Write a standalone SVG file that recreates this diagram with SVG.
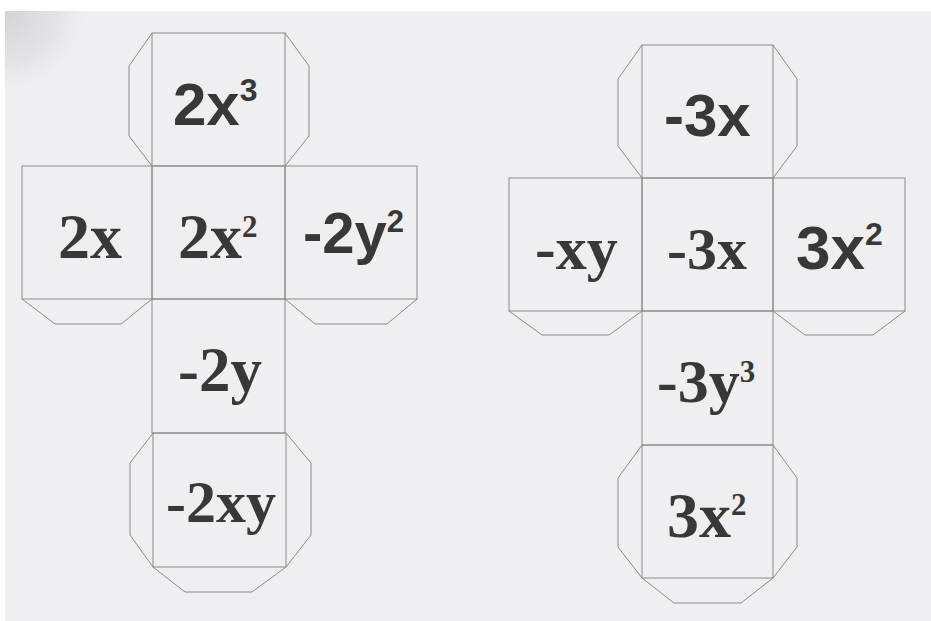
<svg xmlns="http://www.w3.org/2000/svg" width="931" height="621" viewBox="0 0 931 621">
<defs>
<radialGradient id="shadow" cx="0" cy="0" r="1" gradientUnits="userSpaceOnUse" gradientTransform="translate(5 11) scale(90 90)">
<stop offset="0" stop-color="#d4d4d6"/>
<stop offset="0.6" stop-color="#e4e4e6"/>
<stop offset="1" stop-color="#efeff1" stop-opacity="0"/>
</radialGradient>
<style>
.ln{fill:none;stroke:#8a8a8a;stroke-width:1}
.sans{font-family:"Liberation Sans",Arial,sans-serif;font-weight:bold;fill:#383838}
.serif{font-family:"Liberation Serif","Times New Roman",serif;font-weight:bold;fill:#383838}
</style>
</defs>
<rect width="931" height="621" fill="#ffffff"/>
<rect x="5" y="11" width="926" height="610" fill="#efeff1"/>
<rect x="5" y="11" width="100" height="100" fill="url(#shadow)"/>

<g id="net-left">
<g id="flaps-left" class="ln">
<polyline points="152,33 129,66 129,136 152,166"/>
<polyline points="285,33 309,66 309,136 285,166"/>
<polyline points="22,299 55,324 121,324 152,299"/>
<polyline points="285,299 315,324 387,324 417,299"/>
<polyline points="153,433 130,463 130,535 153,567"/>
<polyline points="286,433 311,463 311,535 286,567"/>
<polyline points="153,567 185,592 252,592 286,567"/>
</g>
<g id="face-2x3"><rect class="ln" x="152" y="33" width="133" height="133"/>
<text class="sans" x="173" y="125" font-size="60">2x<tspan font-size="32" dy="-24">3</tspan></text></g>
<g id="face-2x"><rect class="ln" x="22" y="166" width="130" height="133"/>
<text class="serif" x="58" y="258" font-size="64">2x</text></g>
<g id="face-2x2"><rect class="ln" x="152" y="166" width="133" height="133"/>
<text class="serif" x="178" y="258" font-size="64">2x<tspan font-size="31" dy="-21">2</tspan></text></g>
<g id="face-m2y2"><rect class="ln" x="285" y="166" width="132" height="133"/>
<text class="sans" x="303" y="253" font-size="58">-2y<tspan font-size="31" dy="-21">2</tspan></text></g>
<g id="face-m2y"><rect class="ln" x="152" y="299" width="133" height="134"/>
<text class="serif" x="178" y="391" font-size="63">-2y</text></g>
<g id="face-m2xy"><rect class="ln" x="153" y="433" width="133" height="134"/>
<text class="serif" x="166" y="522" font-size="60">-2xy</text></g>
</g>

<g id="net-right">
<g id="flaps-right" class="ln">
<polyline points="642,45 618,79 618,146 642,178"/>
<polyline points="773,45 797,79 797,146 773,178"/>
<polyline points="509,311 542,335 609,335 642,311"/>
<polyline points="773,311 805,335 873,335 905,311"/>
<polyline points="642,445 618,478 618,547 642,578"/>
<polyline points="773,445 797,478 797,547 773,578"/>
<polyline points="642,578 674,603 741,603 773,578"/>
</g>
<g id="face-m3x-top"><rect class="ln" x="642" y="45" width="131" height="133"/>
<text class="sans" x="664" y="136" font-size="60">-3x</text></g>
<g id="face-mxy"><rect class="ln" x="509" y="178" width="133" height="133"/>
<text class="serif" x="535" y="269" font-size="62">-xy</text></g>
<g id="face-m3x"><rect class="ln" x="642" y="178" width="131" height="133"/>
<text class="serif" x="667" y="269" font-size="60">-3x</text></g>
<g id="face-3x2-sans"><rect class="ln" x="773" y="178" width="132" height="133"/>
<text class="sans" x="796" y="269" font-size="62">3x<tspan font-size="32" dy="-24">2</tspan></text></g>
<g id="face-m3y3"><rect class="ln" x="642" y="311" width="131" height="134"/>
<text class="serif" x="657" y="402" font-size="62">-3y<tspan font-size="31" dy="-20">3</tspan></text></g>
<g id="face-3x2"><rect class="ln" x="642" y="445" width="131" height="133"/>
<text class="serif" x="667" y="537" font-size="64">3x<tspan font-size="31" dy="-22">2</tspan></text></g>
</g>
</svg>
